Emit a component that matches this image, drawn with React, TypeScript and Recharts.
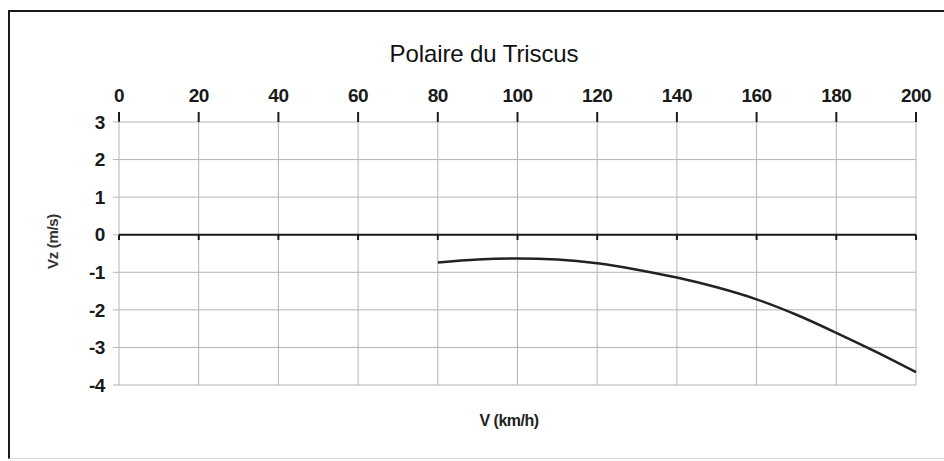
import { CartesianGrid, Line, LineChart, ReferenceLine, XAxis, YAxis } from "recharts";

const speeds = [80, 90, 100, 110, 120, 130, 140, 150, 160, 170, 180, 190, 200];
const sinkRates = [-0.74, -0.66, -0.63, -0.66, -0.76, -0.93, -1.14, -1.4, -1.72, -2.13, -2.61, -3.12, -3.66];

const xTicks = [0, 20, 40, 60, 80, 100, 120, 140, 160, 180, 200];
const yTicks = [-4, -3, -2, -1, 0, 1, 2, 3];

const data = speeds.map((v, i) => ({ v, vz: sinkRates[i] }));

const FONT = '"Liberation Sans", Arial, sans-serif';

export default function App() {
  return (
    <div style={{ position: "absolute", left: 0, top: 0, width: 944, height: 461, background: "#fff", overflow: "hidden", fontFamily: FONT }}>
      {/* cadre */}
      <div
        style={{
          position: "absolute",
          left: 8,
          top: 10,
          width: 940,
          height: 446,
          borderLeft: "2px solid #1a1a1a",
          borderTop: "2px solid #1a1a1a",
          borderBottom: "1px solid #d8d8d8",
        }}
      />
      <div style={{ position: "absolute", left: 0, top: 0 }}>
        <LineChart width={944} height={461} data={data} margin={{ top: 92, right: 28, bottom: 76, left: 59 }}>
          <CartesianGrid stroke="#b4b4b4" strokeWidth={1} />
          <XAxis
            dataKey="v"
            type="number"
            orientation="top"
            domain={[0, 200]}
            ticks={xTicks}
            interval={0}
            height={30}
            axisLine={false}
            tickLine={{ stroke: "#1a1a1a", strokeWidth: 2 }}
            tickSize={10}
            tickMargin={10}
            tick={{ fill: "#1a1a1a", fontSize: 19, fontWeight: 700, fontFamily: FONT, letterSpacing: -0.5 }}
          />
          <YAxis
            type="number"
            domain={[-4, 3]}
            ticks={yTicks}
            interval={0}
            width={60}
            axisLine={false}
            tickLine={{ stroke: "#b4b4b4" }}
            tickSize={6}
            tickMargin={8}
            tick={{ fill: "#1a1a1a", fontSize: 19, fontWeight: 700, fontFamily: FONT, letterSpacing: -0.4 }}
            label={{
              value: "Vz (m/s)",
              angle: -90,
              position: "insideLeft",
              offset: -6,
              dy: -12,
              style: { fill: "#333", fontSize: 15, fontWeight: 700, fontFamily: FONT, letterSpacing: -0.3, textAnchor: "middle" },
            }}
          />
          <ReferenceLine y={0} stroke="#1a1a1a" strokeWidth={2} />
          {xTicks.map((t) => (
            <ReferenceLine
              key={`t-${t}`}
              segment={[
                { x: t, y: 0 },
                { x: t, y: -0.14 },
              ]}
              stroke="#1a1a1a"
              strokeWidth={2}
            />
          ))}
          <Line
            type="monotone"
            dataKey="vz"
            stroke="#222"
            strokeWidth={2.5}
            dot={false}
            isAnimationActive={false}
          />
        </LineChart>
      </div>
      <div
        style={{
          position: "absolute",
          left: 334,
          top: 39,
          width: 300,
          textAlign: "center",
          fontSize: 24,
          color: "#111",
          letterSpacing: -0.1,
          lineHeight: "30px",
        }}
      >
        Polaire du Triscus
      </div>
      <div
        style={{
          position: "absolute",
          left: 449,
          top: 411,
          width: 120,
          textAlign: "center",
          fontSize: 16,
          fontWeight: 700,
          color: "#222",
          letterSpacing: -0.5,
          lineHeight: "20px",
        }}
      >
        V (km/h)
      </div>
    </div>
  );
}
